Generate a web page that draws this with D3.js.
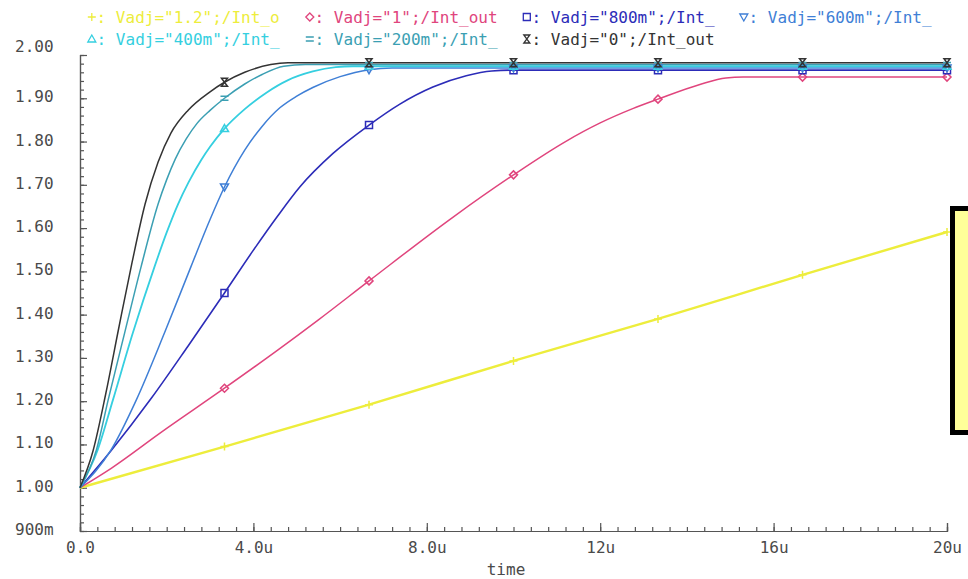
<!DOCTYPE html>
<html>
<head>
<meta charset="utf-8">
<script src="https://cdn.jsdelivr.net/npm/d3@7/dist/d3.min.js"></script>
<style>
  html, body { margin: 0; padding: 0; background: #ffffff; }
  svg { display: block; }
  text { font-family: "DejaVu Sans Mono", "Liberation Mono", monospace; }
</style>
</head>
<body>
<svg id="chart" width="968" height="579"></svg>
<script>
// ---- data: time in µs, Int_out in V ----
const markerTimes = [3.333, 6.667, 10, 13.333, 16.667, 20];

const vadj1p2 = [[0,1.000],[3.333,1.095],[6.667,1.192],[10,1.293],[13.333,1.390],[16.667,1.492],[20,1.591]];
const vadj1 = [[0,1.000],[0.72,1.045],[1.87,1.128],[3.333,1.230],[4.56,1.318],[5.5,1.388],[6.667,1.478],[8.6,1.625],[10,1.723],[11.2,1.800],[12,1.843],[12.75,1.876],[13.333,1.898],[14.3,1.932],[14.9,1.947],[15.3,1.949],[16.667,1.949],[20,1.949]];
const vadj800m = [[0,1.000],[0.72,1.086],[1.64,1.206],[2.49,1.327],[3.333,1.450],[4.0,1.549],[4.56,1.628],[5.07,1.695],[5.83,1.772],[6.667,1.838],[7.37,1.886],[8.14,1.926],[8.91,1.952],[9.5,1.963],[10,1.965],[13.333,1.965],[16.667,1.965],[20,1.965]];
const vadj600m = [[0,1.000],[0.72,1.088],[1.3,1.203],[1.95,1.358],[2.56,1.511],[3.0,1.620],[3.333,1.695],[3.8,1.780],[4.2,1.835],[4.61,1.878],[5.0,1.905],[5.37,1.925],[6.0,1.950],[6.667,1.966],[7.2,1.970],[10,1.970],[13.333,1.970],[16.667,1.970],[20,1.970]];
const vadj400m = [[0,1.000],[0.41,1.088],[0.76,1.203],[1.22,1.358],[1.72,1.511],[2.0,1.590],[2.26,1.655],[2.5,1.705],[2.8,1.758],[3.0,1.788],[3.333,1.830],[3.8,1.875],[4.3,1.913],[4.8,1.942],[5.37,1.962],[5.9,1.972],[6.3,1.974],[6.667,1.974],[10,1.974],[13.333,1.974],[16.667,1.974],[20,1.974]];
const vadj200m = [[0,1.000],[0.38,1.088],[0.65,1.203],[1.03,1.358],[1.41,1.511],[1.8,1.655],[2.0,1.712],[2.2,1.760],[2.45,1.806],[2.7,1.842],[3.0,1.872],[3.333,1.900],[3.8,1.933],[4.2,1.955],[4.7,1.974],[5.2,1.978],[6.667,1.978],[10,1.978],[13.333,1.978],[16.667,1.978],[20,1.978]];
const vadj0 = [[0,1.000],[0.3,1.085],[0.6,1.220],[0.9,1.372],[1.2,1.520],[1.5,1.655],[1.8,1.752],[2.1,1.820],[2.5,1.873],[3.0,1.915],[3.333,1.937],[3.8,1.960],[4.4,1.978],[4.8,1.982],[6.667,1.982],[10,1.982],[13.333,1.982],[16.667,1.982],[20,1.982]];

const legendLabels = [
  ': Vadj="1.2";/Int_o',
  ': Vadj="1";/Int_out',
  ': Vadj="800m";/Int_',
  ': Vadj="600m";/Int_',
  ': Vadj="400m";/Int_',
  ': Vadj="200m";/Int_',
  ': Vadj="0";/Int_out'
];

const yTickValues = [0.9, 1.0, 1.1, 1.2, 1.3, 1.4, 1.5, 1.6, 1.7, 1.8, 1.9, 2.0];
const yTickLabels = ["900m","1.00","1.10","1.20","1.30","1.40","1.50","1.60","1.70","1.80","1.90","2.00"];
const xTickValues = [0, 4, 8, 12, 16, 20];
const xTickLabels = ["0.0","4.0u","8.0u","12u","16u","20u"];
const xAxisTitle = "time";

// ---- styles ----
const seriesData = [vadj1p2, vadj1, vadj800m, vadj600m, vadj400m, vadj200m, vadj0];
const seriesColors = ["#eded3c", "#e0457d", "#2c2cb8", "#3f7fd6", "#35cfe0", "#3b9fb3", "#333333"];
const seriesWidths = [2.4, 1.5, 1.6, 1.5, 1.8, 1.5, 1.5];
const seriesShapes = ["plus", "diamond", "square", "triDown", "triUp", "equal", "hourglass"];

const svg = d3.select("#chart");
const x = d3.scaleLinear().domain([0, 20]).range([80, 947]);
const y = d3.scaleLinear().domain([0.9, 2.0]).range([531, 55]);

const axisColor = "#555555";
const labelColor = "#4a4a4a";

// ---- axes ----
const yMinor = d3.range(0.9, 2.0001, 0.02).map(v => +v.toFixed(2));
const xMinor = d3.range(0, 20.0001, 0.4).map(v => +v.toFixed(1));

const gyMinor = svg.append("g").attr("transform", `translate(${x(0)},0)`)
  .call(d3.axisLeft(y).tickValues(yMinor).tickSize(-4).tickFormat(""));
const gy = svg.append("g").attr("transform", `translate(${x(0)},0)`)
  .call(d3.axisLeft(y).tickValues(yTickValues).tickSize(-7).tickPadding(0)
    .tickFormat((d, i) => yTickLabels[i]));
const gxMinor = svg.append("g").attr("transform", `translate(0,${y(0.9)})`)
  .call(d3.axisBottom(x).tickValues(xMinor).tickSize(-4).tickFormat(""));
const gx = svg.append("g").attr("transform", `translate(0,${y(0.9)})`)
  .call(d3.axisBottom(x).tickValues(xTickValues).tickSize(-8).tickPadding(0)
    .tickFormat((d, i) => xTickLabels[i]));

[gyMinor, gy, gxMinor, gx].forEach(g => {
  g.selectAll(".domain").attr("stroke", axisColor).attr("stroke-width", 1.2);
  g.selectAll(".tick line").attr("stroke", axisColor).attr("stroke-width", 1.2);
});
gy.selectAll(".tick text")
  .attr("x", 15 - x(0)).attr("text-anchor", "start")
  .attr("dy", (d) => d === 2.0 ? "-0.25em" : "0.22em")
  .attr("fill", labelColor).attr("font-size", 16)
  .attr("font-family", "DejaVu Sans Mono");
gx.selectAll(".tick text")
  .attr("y", 11).attr("dy", "0.71em")
  .attr("fill", labelColor).attr("font-size", 16)
  .attr("font-family", "DejaVu Sans Mono");

svg.append("text")
  .attr("x", 506).attr("y", 569).attr("dy", "0.35em")
  .attr("text-anchor", "middle")
  .attr("fill", labelColor).attr("font-size", 16)
  .text(xAxisTitle);

// ---- marker shapes ----
function shapePath(kind) {
  switch (kind) {
    case "plus": return "M-4,0H4M0,-4V4";
    case "diamond": return "M0,-4L4,0L0,4L-4,0Z";
    case "square": return "M-3.5,-3.5H3.5V3.5H-3.5Z";
    case "triDown": return "M-4,-3L4,-3L0,4Z";
    case "triUp": return "M0,-4L4,3L-4,3Z";
    case "equal": return "M-4,-2H4M-4,2H4";
    case "hourglass": return "M-3,-4H3L-3,4H3Z";
  }
}

// ---- curves ----
const line = d3.line()
  .x(d => x(d[0]))
  .y(d => y(d[1]))
  .curve(d3.curveMonotoneX);

const plot = svg.append("g");
seriesData.forEach((data, i) => {
  plot.append("path")
    .datum(data)
    .attr("d", line)
    .attr("fill", "none")
    .attr("stroke", seriesColors[i])
    .attr("stroke-width", seriesWidths[i])
    .attr("stroke-linejoin", "round");
});
seriesData.forEach((data, i) => {
  const pts = data.filter(d => markerTimes.includes(d[0]));
  plot.selectAll(null)
    .data(pts)
    .enter().append("path")
    .attr("transform", d => `translate(${x(d[0])},${y(d[1])})`)
    .attr("d", shapePath(seriesShapes[i]))
    .attr("fill", "none")
    .attr("stroke", seriesColors[i])
    .attr("stroke-width", 1.5);
});

// ---- legend ----
const legendCols = [87, 305, 522, 739];
const legendRows = [17, 39];
const charW = 9.6;
legendLabels.forEach((label, i) => {
  const col = legendCols[i % 4];
  const row = legendRows[Math.floor(i / 4)];
  const g = svg.append("g").attr("transform", `translate(${col},${row})`);
  g.append("path")
    .attr("transform", `translate(${charW / 2},0)`)
    .attr("d", shapePath(seriesShapes[i]))
    .attr("fill", "none")
    .attr("stroke", seriesColors[i])
    .attr("stroke-width", 1.3);
  g.append("text")
    .attr("x", charW).attr("dy", "0.35em")
    .attr("fill", seriesColors[i])
    .attr("font-size", 16)
    .text(label);
});

// ---- highlighted box at the right edge ----
svg.append("rect")
  .attr("x", 952.5).attr("y", 208.5)
  .attr("width", 40).attr("height", 224)
  .attr("fill", "#ffff99")
  .attr("stroke", "#000000")
  .attr("stroke-width", 5);
</script>
</body>
</html>
